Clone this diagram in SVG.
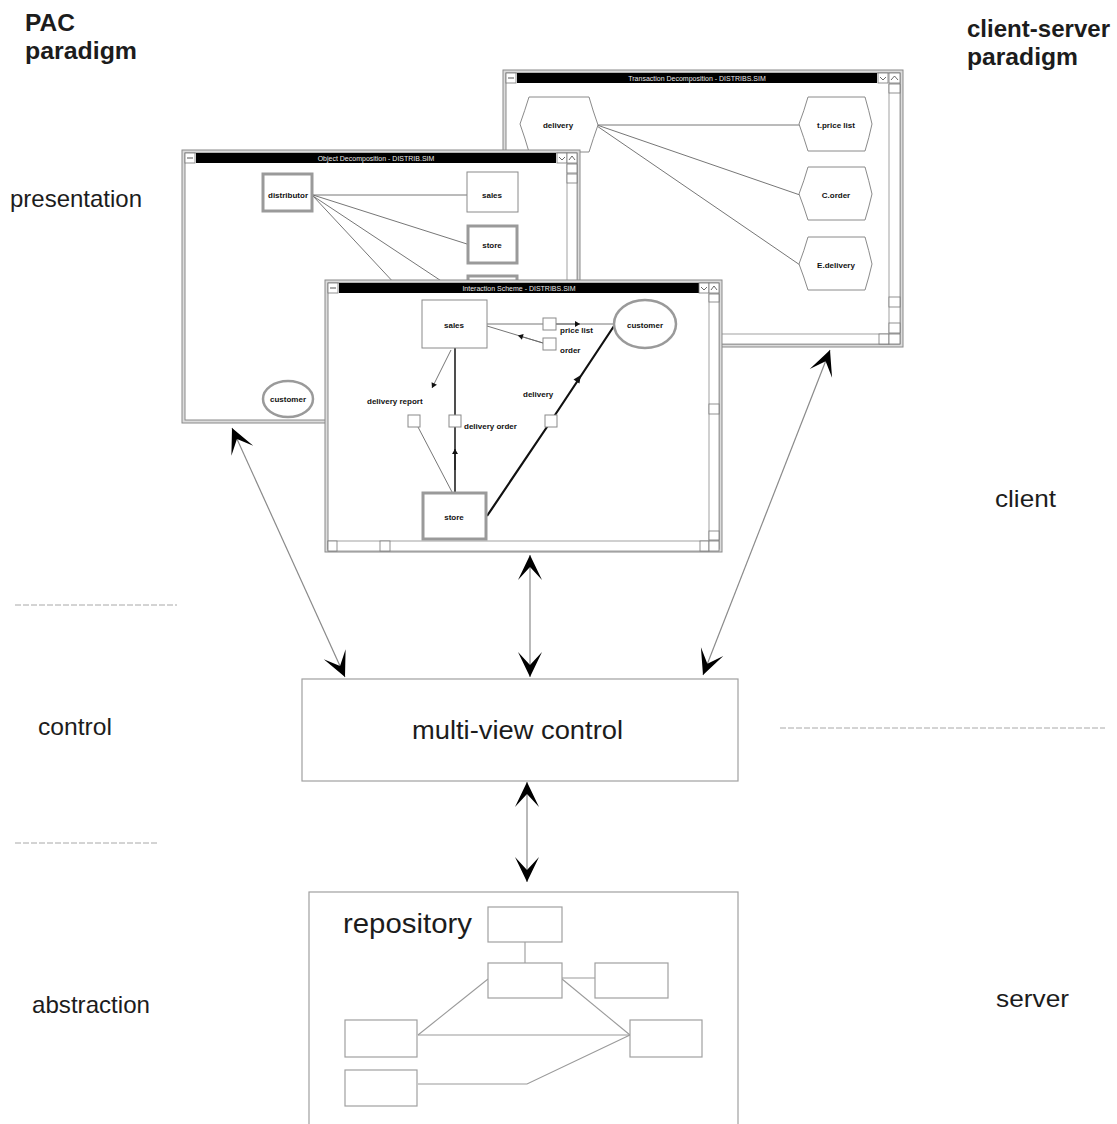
<svg xmlns="http://www.w3.org/2000/svg" width="1117" height="1124" viewBox="0 0 1117 1124">
  <defs>
    <style>
      .lbl { font-family: "Liberation Sans", Arial, sans-serif; font-size: 24px; fill: #1c1c1c; }
      .bold { font-weight: bold; }
      .frame { fill: #dcdcdc; stroke: #8a8a8a; stroke-width: 1; }
      .pane { fill: #ffffff; stroke: #8a8a8a; stroke-width: 1; }
      .tbar { fill: #000000; }
      .ttl { font-family: "Liberation Sans", Arial, sans-serif; font-size: 7px; fill: #e8e8e8; text-anchor: middle; }
      .btn { fill: #ffffff; stroke: #777777; stroke-width: 0.8; }
      .scroll { fill: #ffffff; stroke: #8a8a8a; stroke-width: 0.8; }
      .node { fill: #ffffff; stroke: #8a8a8a; stroke-width: 1; }
      .node2 { fill: #ffffff; stroke: #9a9a9a; stroke-width: 3; }
      .tiny { font-family: "Liberation Sans", Arial, sans-serif; font-size: 8px; fill: #111111; text-anchor: middle; font-weight: bold; }
      .tinyl { font-family: "Liberation Sans", Arial, sans-serif; font-size: 8px; fill: #111111; font-weight: bold; }
      .wire { fill: none; stroke: #666666; stroke-width: 0.9; }
      .wire2 { fill: none; stroke: #222222; stroke-width: 1.6; }
      .wire3 { fill: none; stroke: #111111; stroke-width: 2.2; }
      .conn { fill: none; stroke: #8a8a8a; stroke-width: 1.2; }
      .sep { fill: none; stroke: #a8a8a8; stroke-width: 1; stroke-dasharray: 6 2; }
      .box { fill: #ffffff; stroke: #a0a0a0; stroke-width: 1.2; }
      .rline { fill: none; stroke: #9a9a9a; stroke-width: 1.1; }
    </style>
    <marker id="barb" viewBox="-28 -15 30 30" markerWidth="30" markerHeight="30" refX="0" refY="0" orient="auto-start-reverse" markerUnits="userSpaceOnUse">
      <path d="M0,0 L-25,-12 L-12,0 L-25,12 Z" fill="#000000"/>
    </marker>
    <marker id="tick" viewBox="-6 -4 7 8" markerWidth="7" markerHeight="8" refX="0" refY="0" orient="auto" markerUnits="userSpaceOnUse">
      <path d="M0,0 L-5,-3 L-5,3 Z" fill="#111111"/>
    </marker>
  </defs>

  <rect x="0" y="0" width="1117" height="1124" fill="#ffffff"/>

  <!-- side labels -->
  <g id="labels">
    <text class="lbl bold" x="25" y="31" textLength="50" lengthAdjust="spacingAndGlyphs">PAC</text>
    <text class="lbl bold" x="25" y="59" textLength="112" lengthAdjust="spacingAndGlyphs">paradigm</text>
    <text class="lbl bold" x="967" y="37" textLength="143" lengthAdjust="spacingAndGlyphs">client-server</text>
    <text class="lbl bold" x="967" y="65" textLength="111" lengthAdjust="spacingAndGlyphs">paradigm</text>
    <text class="lbl" x="10" y="207" textLength="132" lengthAdjust="spacingAndGlyphs">presentation</text>
    <text class="lbl" x="38" y="735" textLength="74" lengthAdjust="spacingAndGlyphs">control</text>
    <text class="lbl" x="32" y="1013" textLength="118" lengthAdjust="spacingAndGlyphs">abstraction</text>
    <text class="lbl" x="995" y="507" textLength="61" lengthAdjust="spacingAndGlyphs">client</text>
    <text class="lbl" x="996" y="1007" textLength="73" lengthAdjust="spacingAndGlyphs">server</text>
  </g>

  <!-- layer separators -->
  <g id="separators">
    <line class="sep" x1="15" y1="605" x2="177" y2="605"/>
    <line class="sep" x1="15" y1="843" x2="158" y2="843"/>
    <line class="sep" x1="780" y1="728" x2="1105" y2="728"/>
  </g>

  <!-- transaction decomposition view (back) -->
  <g id="window-transaction">
    <rect class="frame" x="503" y="70" width="400" height="277"/>
    <rect class="pane" x="506" y="73" width="394" height="271"/>
    <rect class="btn" x="506" y="73" width="10" height="10"/>
    <line x1="508" y1="78" x2="514" y2="78" stroke="#555" stroke-width="1"/>
    <rect class="tbar" x="517" y="73" width="360" height="10"/>
    <text class="ttl" x="697" y="81">Transaction Decomposition - DISTRIBS.SIM</text>
    <rect class="btn" x="878" y="73" width="10" height="10"/>
    <rect class="btn" x="889" y="73" width="11" height="10"/>
    <path d="M880,77 L883,80 L886,77" fill="none" stroke="#444" stroke-width="0.8"/>
    <path d="M891,80 L894.5,76 L898,80" fill="none" stroke="#444" stroke-width="0.8"/>
    <rect class="scroll" x="889" y="84" width="11" height="249"/>
    <rect class="btn" x="889" y="84" width="11" height="9"/>
    <rect class="btn" x="889" y="297" width="11" height="10"/>
    <rect class="btn" x="889" y="323" width="11" height="10"/>
    <rect class="scroll" x="506" y="334" width="383" height="10"/>
    <rect class="btn" x="879" y="334" width="10" height="10"/>
    <rect class="btn" x="889" y="334" width="11" height="10"/>

    <line class="wire" x1="597" y1="125" x2="800" y2="125"/>
    <line class="wire" x1="597" y1="125" x2="800" y2="195"/>
    <line class="wire" x1="597" y1="126" x2="800" y2="265"/>
    <path class="node" d="M529,97 L589,97 Q593,111 598,125 Q593,139 589,152 L529,152 Q525,138 520,124 Q525,110 529,97 Z"/>
    <text class="tiny" x="558" y="128">delivery</text>
    <path class="node" d="M808,97 L865,97 Q869,111 872,124 Q869,138 865,151 L808,151 Q804,138 799,124 Q804,111 808,97 Z"/>
    <text class="tiny" x="836" y="128">t.price list</text>
    <path class="node" d="M808,167 L865,167 Q869,181 872,194 Q869,207 865,220 L808,220 Q804,207 799,194 Q804,181 808,167 Z"/>
    <text class="tiny" x="836" y="198">C.order</text>
    <path class="node" d="M808,237 L865,237 Q869,251 872,264 Q869,277 865,290 L808,290 Q804,277 799,264 Q804,251 808,237 Z"/>
    <text class="tiny" x="836" y="268">E.delivery</text>
  </g>

  <!-- object decomposition view (middle) -->
  <g id="window-object">
    <rect class="frame" x="182" y="150" width="398" height="273"/>
    <rect class="pane" x="185" y="153" width="392" height="267"/>
    <rect class="btn" x="185" y="153" width="10" height="10"/>
    <line x1="187" y1="158" x2="193" y2="158" stroke="#555" stroke-width="1"/>
    <rect class="tbar" x="196" y="153" width="360" height="10"/>
    <text class="ttl" x="376" y="161">Object Decomposition - DISTRIB.SIM</text>
    <rect class="btn" x="557" y="153" width="10" height="10"/>
    <rect class="btn" x="567" y="153" width="10" height="10"/>
    <path d="M559,157 L562,160 L565,157" fill="none" stroke="#444" stroke-width="0.8"/>
    <path d="M569,160 L572,156 L575,160" fill="none" stroke="#444" stroke-width="0.8"/>
    <rect class="scroll" x="567" y="164" width="10" height="256"/>
    <rect class="btn" x="567" y="164" width="10" height="9"/>
    <rect class="btn" x="567" y="174" width="10" height="9"/>

    <line class="wire" x1="313" y1="195" x2="467" y2="195"/>
    <line class="wire" x1="313" y1="195" x2="467" y2="244"/>
    <line class="wire" x1="313" y1="196" x2="410" y2="300"/>
    <line class="wire" x1="313" y1="196" x2="470" y2="300"/>
    <rect class="node2" x="263" y="174" width="49" height="37"/>
    <text class="tiny" x="288" y="198">distributor</text>
    <rect class="node" x="467" y="172" width="51" height="40"/>
    <text class="tiny" x="492" y="198">sales</text>
    <rect class="node2" x="468" y="226" width="49" height="37"/>
    <text class="tiny" x="492" y="248">store</text>
    <rect class="node2" x="468" y="276" width="49" height="34"/>
    <ellipse cx="288" cy="399" rx="25" ry="18" fill="#ffffff" stroke="#9a9a9a" stroke-width="2.5"/>
    <text class="tiny" x="288" y="402">customer</text>
  </g>

  <!-- interaction scheme view (front) -->
  <g id="window-interaction">
    <rect class="frame" x="325" y="280" width="397" height="272"/>
    <rect class="pane" x="328" y="283" width="391" height="266"/>
    <rect class="btn" x="328" y="283" width="10" height="10"/>
    <line x1="330" y1="288" x2="336" y2="288" stroke="#555" stroke-width="1"/>
    <rect class="tbar" x="339" y="283" width="360" height="10"/>
    <text class="ttl" x="519" y="291">Interaction Scheme - DISTRIBS.SIM</text>
    <rect class="btn" x="699" y="283" width="10" height="10"/>
    <rect class="btn" x="709" y="283" width="10" height="10"/>
    <path d="M701,287 L704,290 L707,287" fill="none" stroke="#444" stroke-width="0.8"/>
    <path d="M711,290 L714,286 L717,290" fill="none" stroke="#444" stroke-width="0.8"/>
    <rect class="scroll" x="709" y="294" width="10" height="246"/>
    <rect class="btn" x="709" y="294" width="10" height="8"/>
    <rect class="btn" x="709" y="404" width="10" height="10"/>
    <rect class="btn" x="709" y="531" width="10" height="9"/>
    <rect class="scroll" x="328" y="541" width="381" height="10"/>
    <rect class="btn" x="328" y="541" width="9" height="10"/>
    <rect class="btn" x="380" y="541" width="10" height="10"/>
    <rect class="btn" x="700" y="541" width="9" height="10"/>
    <rect class="btn" x="709" y="541" width="10" height="10"/>

    <!-- flows -->
    <line class="wire" x1="487" y1="324" x2="613" y2="324"/>
    <line class="wire" x1="550" y1="324" x2="580" y2="324" marker-end="url(#tick)"/>
    <line class="wire" x1="487" y1="326" x2="543" y2="343"/>
    <line class="wire" x1="543" y1="343" x2="518" y2="335.5" marker-end="url(#tick)"/>
    <line class="wire" x1="451" y1="350" x2="432" y2="388" marker-end="url(#tick)"/>
    <line class="wire" x1="418" y1="427" x2="452" y2="492"/>
    <line class="wire2" x1="455" y1="348" x2="455" y2="492"/>
    <line class="wire2" x1="455" y1="470" x2="455" y2="449" marker-end="url(#tick)"/>
    <polyline class="wire3" points="614,326 551,421 487,516"/>
    <polygon points="581,375 573.5,379.6 579.4,383.5" fill="#111111"/>

    <rect class="node" x="422" y="300" width="65" height="48"/>
    <text class="tiny" x="454" y="328">sales</text>
    <rect class="node2" x="423" y="493" width="63" height="46"/>
    <text class="tiny" x="454" y="520">store</text>
    <ellipse cx="645" cy="324" rx="31" ry="24" fill="#ffffff" stroke="#9a9a9a" stroke-width="2.5"/>
    <text class="tiny" x="645" y="328">customer</text>

    <rect class="node" x="543" y="318" width="13" height="12"/>
    <text class="tinyl" x="560" y="333">price list</text>
    <rect class="node" x="543" y="338" width="13" height="12"/>
    <text class="tinyl" x="560" y="353">order</text>
    <text class="tinyl" x="367" y="404">delivery report</text>
    <rect class="node" x="408" y="415" width="12" height="12"/>
    <rect class="node" x="449" y="415" width="12" height="12"/>
    <text class="tinyl" x="464" y="429">delivery order</text>
    <text class="tinyl" x="523" y="397">delivery</text>
    <rect class="node" x="545" y="415" width="12" height="12"/>
  </g>

  <!-- control layer -->
  <g id="multi-view-control">
    <rect class="box" x="302" y="679" width="436" height="102"/>
    <text class="lbl" x="412" y="739" textLength="211" lengthAdjust="spacingAndGlyphs" style="font-size:26px">multi-view control</text>
  </g>

  <!-- abstraction layer -->
  <g id="repository">
    <rect class="box" x="309" y="892" width="429" height="250"/>
    <text class="lbl" x="343" y="933" textLength="129" lengthAdjust="spacingAndGlyphs" style="font-size:28px">repository</text>
    <line class="rline" x1="525" y1="942" x2="525" y2="963"/>
    <line class="rline" x1="562" y1="978" x2="595" y2="978"/>
    <line class="rline" x1="488" y1="979" x2="418" y2="1035"/>
    <line class="rline" x1="562" y1="979" x2="630" y2="1035"/>
    <line class="rline" x1="418" y1="1035" x2="630" y2="1035"/>
    <polyline class="rline" points="418,1084 527,1084 630,1035"/>
    <rect class="box" x="488" y="907" width="74" height="35"/>
    <rect class="box" x="488" y="963" width="74" height="35"/>
    <rect class="box" x="595" y="963" width="73" height="35"/>
    <rect class="box" x="345" y="1020" width="72" height="37"/>
    <rect class="box" x="630" y="1020" width="72" height="37"/>
    <rect class="box" x="345" y="1070" width="72" height="36"/>
  </g>

  <!-- links between the views and the control -->
  <g id="connectors">
    <line class="conn" x1="232" y1="428" x2="345" y2="677" marker-start="url(#barb)" marker-end="url(#barb)"/>
    <line class="conn" x1="530" y1="555" x2="530" y2="677" marker-start="url(#barb)" marker-end="url(#barb)"/>
    <line class="conn" x1="830" y1="350" x2="703" y2="675" marker-start="url(#barb)" marker-end="url(#barb)"/>
    <line class="conn" x1="527" y1="782" x2="527" y2="882" marker-start="url(#barb)" marker-end="url(#barb)"/>
  </g>
</svg>
